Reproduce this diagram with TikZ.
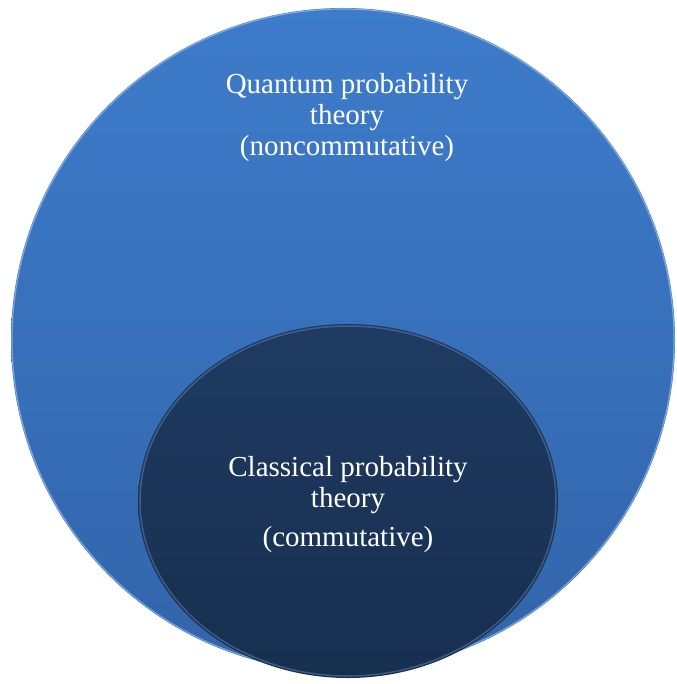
\documentclass[tikz,border=0pt]{standalone}
\usepackage{fontspec}
\setmainfont{Liberation Serif}
\usepackage{tikz}
\definecolor{QuantumTop}{HTML}{3D7CCB}
\definecolor{QuantumBottom}{HTML}{3264AA}
\definecolor{QuantumRim}{HTML}{9CC0EA}
\definecolor{ClassicTop}{HTML}{1F3B62}
\definecolor{ClassicBottom}{HTML}{172F4F}
\definecolor{ClassicRim}{HTML}{6384B0}

\begin{document}
\begin{tikzpicture}[x=1pt,y=-1pt,
    label/.style={text=white,align=center,font=\fontsize{29}{31}\selectfont}]
    \useasboundingbox (0,0) rectangle (676,684);
    % outer set
    \shade[top color=QuantumTop,bottom color=QuantumBottom] (343,340) circle (332);
    \draw[QuantumRim,line width=1.2pt,opacity=0.7] (343,340) circle (331);
    % inner set
    \shade[top color=ClassicTop,bottom color=ClassicBottom] (348,501) ellipse (210 and 177);
    \draw[ClassicRim,line width=1.5pt,opacity=0.5] (348,501) ellipse (208 and 175);
    \node[label] (quantum) at (347,118) {Quantum probability\\theory\\(noncommutative)};
    \node[label] (classical) at (348,505) {Classical probability\\theory\\[8pt](commutative)};
  \end{tikzpicture}
\end{document}
